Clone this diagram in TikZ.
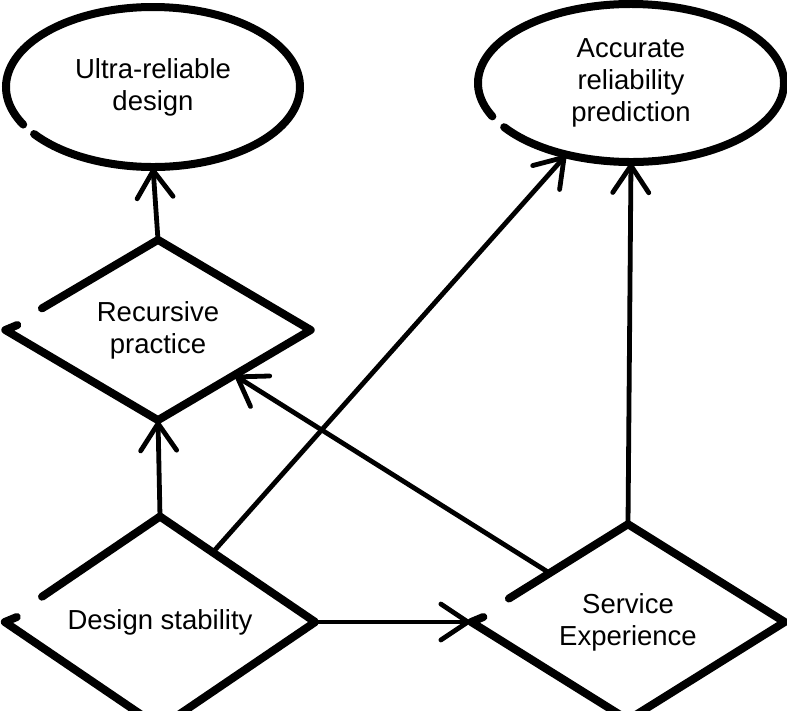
\documentclass[tikz,border=0pt]{standalone}
\usepackage{fontspec}
\setmainfont{Liberation Sans}
\usetikzlibrary{shapes.geometric,arrows.meta,calc}
\begin{document}
\begin{tikzpicture}[x=1pt,y=-1pt,
  outline/.style={line width=8pt,line cap=round,line join=round},
  conn/.style={line width=4.8pt,line cap=round,line join=round,shorten >=1pt,
    -{Straight Barb[length=27pt,width=36pt,round]}},
  lbl/.style={font=\fontsize{27.5}{32}\selectfont,align=center,inner sep=0pt}]
\useasboundingbox (0,0) rectangle (787,710);

% nodes (anchors only; outlines drawn by hand-style paths)
\node[lbl,ellipse,minimum width=294pt,minimum height=160pt] (ur) at (153,87) {Ultra-reliable\\design};
\node[lbl,ellipse,minimum width=306pt,minimum height=158pt] (ar) at (631,83) {Accurate\\reliability\\prediction};
\node[lbl,diamond,minimum width=305pt,minimum height=165pt] (rp) at (158,330) {Recursive\\practice};
\node[lbl,diamond,minimum width=310pt,minimum height=163pt] (ds) at (160,622) {Design stability};
\node[lbl,diamond,minimum width=313pt,minimum height=165pt] (se) at (628,622) {Service\\Experience};

% outlines
\draw[outline] ([shift={(216:147pt and 80pt)}]ur.center)
  arc[start angle=216,end angle=568,x radius=147pt,y radius=80pt];
\draw[outline] ([shift={(214:153pt and 79pt)}]ar.center)
  arc[start angle=214,end angle=565,x radius=153pt,y radius=79pt];
\foreach \n in {rp,ds,se}{
  \draw[outline] ($(\n.west)!0.24!(\n.north)$) -- (\n.north) -- (\n.east)
    -- (\n.south) -- (\n.west) -- ++(12,-5);
}

% connectors
\draw[conn] (rp.north) -- (ur.south);
\draw[conn] (ds.north) -- (rp.south);
\draw[conn] (ds.east) -- (se.west);
\coordinate (dsne) at ($(ds.north)!0.34!(ds.east)$);
\draw[conn] (dsne) -- (ar.228);
\draw[conn] (se.north west) -- (rp.south east);
\draw[conn] (se.north) -- (ar.south);
\end{tikzpicture}
\end{document}
